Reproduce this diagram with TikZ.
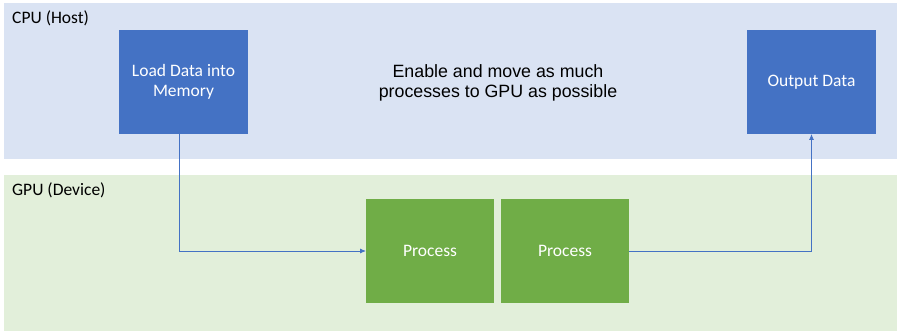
\documentclass[tikz,border=0pt]{standalone}
\usepackage{fontspec}
\setmainfont{Carlito}
\newfontfamily\notefont{Liberation Sans}
\usepackage{tikz}
\usetikzlibrary{arrows.meta}
\usetikzlibrary{positioning}

\definecolor{hostbg}{HTML}{DAE3F3}
\definecolor{devbg}{HTML}{E2EFDA}
\definecolor{hostbox}{HTML}{4472C4}
\definecolor{devbox}{HTML}{70AD47}

\begin{document}
\begin{tikzpicture}[x=1pt, y=-1pt,
  band/.style={rectangle, inner sep=0pt, outer sep=0pt, minimum width=893pt, minimum height=156pt},
  bandlabel/.style={anchor=base west, inner sep=0pt, font=\fontsize{17.5}{20}\selectfont},
  task/.style={rectangle, inner sep=0pt, outer sep=0pt, minimum height=104pt, text=white, text centered, align=center, font=\fontsize{17.5}{20}\selectfont},
  flow/.style={draw=hostbox, line width=0.8pt, -{Latex[length=6pt, width=5pt]}}]
\useasboundingbox (0,0) rectangle (897,331);

% host and device areas
\node[band, fill=hostbg] (cpu) at (450.5,81) {};
\node[band, fill=devbg] (gpu) at (450.5,253) {};
\node[bandlabel] (cpulabel) at (12,24) {CPU (Host)};
\node[bandlabel] (gpulabel) at (12,196) {GPU (Device)};

\node[task, fill=hostbox, minimum width=129pt] (load) at (183.5,82) {Load Data into\\Memory};
\node[task, fill=hostbox, minimum width=129pt] (output) at (811.5,82) {Output Data};
\node[task, fill=devbox, minimum width=128pt] (proc1) at (430,251) {Process};
\node[task, fill=devbox, minimum width=128pt, right=7pt of proc1] (proc2) {Process};

\node[align=center, font=\notefont\fontsize{17.8}{20.5}\selectfont] (note) at (498,83) {Enable and move as much\\processes to GPU as possible};

\draw[flow] ([xshift=-4pt]load.south) |- (proc1);
\draw[flow] (proc2) -| (output);
\end{tikzpicture}
\end{document}
